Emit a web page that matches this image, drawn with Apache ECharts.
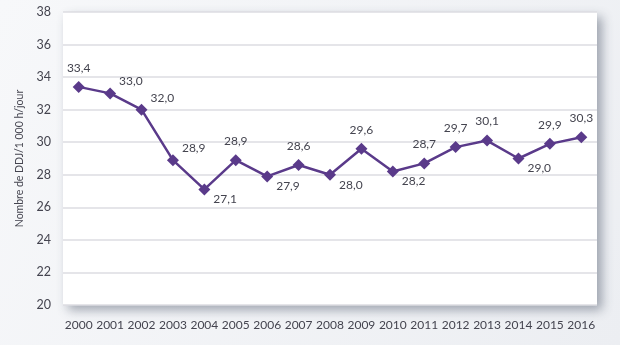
<!DOCTYPE html>
<html><head><meta charset="utf-8">
<script src="https://cdn.jsdelivr.net/npm/echarts@6/dist/echarts.min.js"></script>
<style>html,body{margin:0;padding:0;background:#f2f3f5;}#c{width:620px;height:345px;}</style>
</head><body><div id="c"></div>
<script>
var years = ['2000','2001','2002','2003','2004','2005','2006','2007','2008','2009','2010','2011','2012','2013','2014','2015','2016'];
var values = [33.4,33.0,32.0,28.9,27.1,28.9,27.9,28.6,28.0,29.6,28.2,28.7,29.7,30.1,29.0,29.9,30.3];
var yTicks = [20,22,24,26,28,30,32,34,36,38];
var yName = 'Nombre de DDJ/1 000 h/jour';

// label placement style per point: 'a' above, 'ar' above-right, 'br' below-right
var place = ['a','ar','ar','ar','br','a','br','a','br','a','br','a','a','a','br','a','a'];
function lbl(p){
  if(p==='a') return {position:'top', offset:[0,-2]};
  if(p==='ar') return {position:'right', offset:[-2,-12]};
  return {position:'right', offset:[-2,10]};
}
var data = values.map(function(v,i){ return {value:v, label:lbl(place[i])}; });

var chart = echarts.init(document.getElementById('c'));
chart.setOption({
  animation:false,
  backgroundColor: new echarts.graphic.LinearGradient(0,0,1,1,[{offset:0,color:'#f7f8fa'},{offset:1,color:'#eceef2'}]),
  grid:{left:63,right:23,top:12,bottom:40,show:true,backgroundColor:'#ffffff',borderWidth:0,
    shadowBlur:10,shadowColor:'rgba(60,70,90,0.45)',shadowOffsetX:5,shadowOffsetY:5},
  xAxis:{type:'category',data:years,boundaryGap:true,
    axisLine:{show:false},axisTick:{show:false},
    axisLabel:{interval:0,color:'#44444f',fontSize:12,fontFamily:'Lato',margin:14}},
  yAxis:{type:'value',min:20,max:38,interval:2,
    name:yName,nameLocation:'middle',nameGap:32,nameRotate:90,
    nameTextStyle:{color:'#44444f',fontSize:10.5,fontFamily:'Lato'},
    axisLine:{show:false},axisTick:{show:false},
    axisLabel:{color:'#44444f',fontSize:12.5,fontFamily:'Lato',margin:12},
    splitLine:{lineStyle:{color:'#dcdde2',width:1.5}}},
  series:[{type:'line',data:data,symbol:'diamond',symbolSize:12,
    lineStyle:{color:'#5a3a8a',width:2.5},
    itemStyle:{color:'#5a3a8a'},
    label:{show:true,color:'#44444f',fontSize:12,fontFamily:'Lato',
      formatter:function(p){return p.value.toFixed(1).replace('.',',');}}}]
});
</script></body></html>
